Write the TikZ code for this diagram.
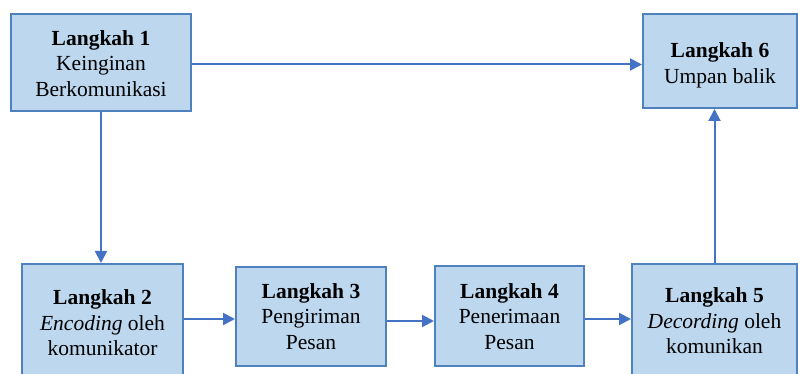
\documentclass[tikz,border=0pt]{standalone}
\usepackage{fontspec}
\setmainfont{Liberation Serif}
\usetikzlibrary{arrows.meta}
\definecolor{boxfill}{HTML}{BDD7EE}
\definecolor{boxline}{HTML}{4F81BD}
\definecolor{arrcol}{HTML}{4472C4}
\newcommand\lowtext[2]{\raisebox{-#1}[\height][\depth]{\begin{tabular}{@{}c@{}}#2\end{tabular}}}
\begin{document}
\begin{tikzpicture}[x=1pt,y=-1pt,
  stepbox/.style={draw=boxline,fill=boxfill,line width=2pt,inner sep=0pt,
    font=\fontsize{21.5}{25.5}\selectfont},
  arr/.style={draw=arrcol,line width=2pt,-{Triangle[length=12pt,width=12pt]}}]
\useasboundingbox (0,0) rectangle (798,374);
\node[stepbox,minimum width=180pt,minimum height=97pt] (b1) at (101,62.5) {\lowtext{3pt}{\textbf{Langkah 1}\\Keinginan\\Berkomunikasi}};
\node[stepbox,minimum width=154pt,minimum height=94pt] (b6) at (720,61) {\lowtext{4.5pt}{\textbf{Langkah 6}\\Umpan balik}};
\node[stepbox,minimum width=161pt,minimum height=116pt] (b2) at (102.5,322) {\lowtext{3pt}{\textbf{Langkah 2}\\\textit{Encoding} oleh\\komunikator}};
\node[stepbox,minimum width=150pt,minimum height=99pt] (b3) at (311,316.5) {\lowtext{2pt}{\textbf{Langkah 3}\\Pengiriman\\Pesan}};
\node[stepbox,minimum width=149pt,minimum height=100pt] (b4) at (509.5,316) {\lowtext{2.5pt}{\textbf{Langkah 4}\\Penerimaan\\Pesan}};
\node[stepbox,minimum width=165pt,minimum height=118pt] (b5) at (714.5,323) {\lowtext{0pt}{\textbf{Langkah 5}\\\textit{Decording} oleh\\komunikan}};
\draw[arr] ([yshift=-2pt]b1.east) -- ([yshift=-2pt]b1.east -| b6.west);
\draw[arr] (b1.south) -- (b1.south |- b2.north);
\draw[arr] ([yshift=3pt]b2.east) -- ([yshift=3pt]b2.east -| b3.west);
\draw[arr] ([yshift=-4.5pt]b3.east) -- ([yshift=-4.5pt]b3.east -| b4.west);
\draw[arr] ([yshift=-3pt]b4.east) -- ([yshift=-3pt]b4.east -| b5.west);
\draw[arr] (b5.north) -- (b5.north |- b6.south);
\end{tikzpicture}
\end{document}
